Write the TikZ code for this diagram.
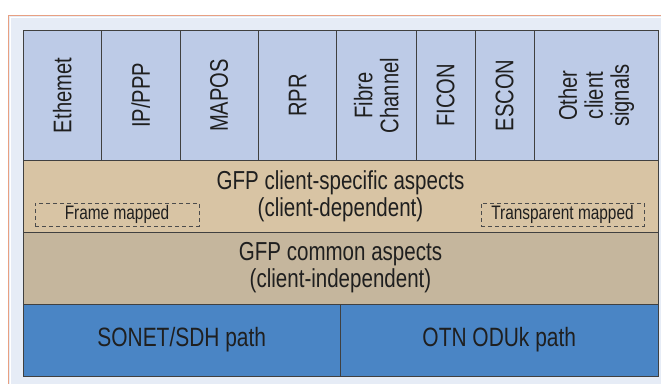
\documentclass[tikz,border=0pt]{standalone}
\usepackage{fontspec}
\setmainfont[FakeStretch=0.79]{Liberation Sans}
\begin{document}
\begin{tikzpicture}[x=1pt,y=-1pt,
  every node/.style={inner sep=0pt,outer sep=0pt,text=black!88},
  cell/.style={draw=black!75,line width=1pt,rectangle},
  client/.style={cell,fill=colclient,rotate=90,minimum width=131pt,align=center,
    font=\fontsize{25.5}{26}\selectfont},
  layer/.style={cell,minimum width=635pt,minimum height=71.5pt,align=center,
    font=\fontsize{26}{27}\selectfont},
  path/.style={cell,fill=colpath,minimum width=317.5pt,minimum height=72pt,
    font=\fontsize{26.5}{27}\selectfont},
  mapbox/.style={draw=black!70,dashed,dash pattern=on 4pt off 3pt,line width=0.8pt,
    rectangle,minimum height=23pt,font=\fontsize{19.5}{20}\selectfont}]
\definecolor{colclient}{RGB}{189,203,231}
\definecolor{colspec}{RGB}{216,196,164}
\definecolor{colcommon}{RGB}{197,182,157}
\definecolor{colpath}{RGB}{74,133,197}
\definecolor{colbg}{RGB}{230,236,246}
\definecolor{colframe}{RGB}{232,160,130}
\useasboundingbox (0,0) rectangle (661,383);
% outer panel
\fill[white] (0,0) rectangle (661,383);
\draw[colframe,fill=colbg,line width=1pt] (8,15) rectangle (680,400);
\draw[white,line width=0.8pt] (10,17) rectangle (680,400);
% client signal columns
\node[client,minimum height=78.7pt] (eth) at (62.35,95.5) {Ethemet};
\node[client,minimum height=78.3pt] (ip) at (140.85,95.5) {IP/PPP};
\node[client,minimum height=78.3pt] (mapos) at (219.15,95.5) {MAPOS};
\node[client,minimum height=78.4pt] (rpr) at (297.5,95.5) {RPR};
\node[client,minimum height=79.3pt] (fc) at (376.35,95.5) {Fibre\\Channel};
\node[client,minimum height=59pt] (ficon) at (445.5,95.5) {FICON};
\node[client,minimum height=59.3pt] (escon) at (504.65,95.5) {ESCON};
\node[client,minimum height=123.7pt] (other) at (596.15,95.5) {Other\\client\\signals};
% GFP layers
\node[layer,fill=colspec] (spec) at (340.5,196.5) {GFP client-specific aspects\\(client-dependent)};
\node[layer,fill=colcommon,minimum height=72pt] (common) at (340.5,268) {GFP common aspects\\(client-independent)};
\node[mapbox,minimum width=164pt] (frame) at (117,214.5) {Frame mapped};
\node[mapbox,minimum width=163pt] (transp) at (562.5,214.5) {Transparent mapped};
% transport paths
\node[path] (sonet) at (181.75,340) {SONET/SDH path};
\node[path] (otn) at (499.25,340) {OTN ODUk path};
\end{tikzpicture}
\end{document}
